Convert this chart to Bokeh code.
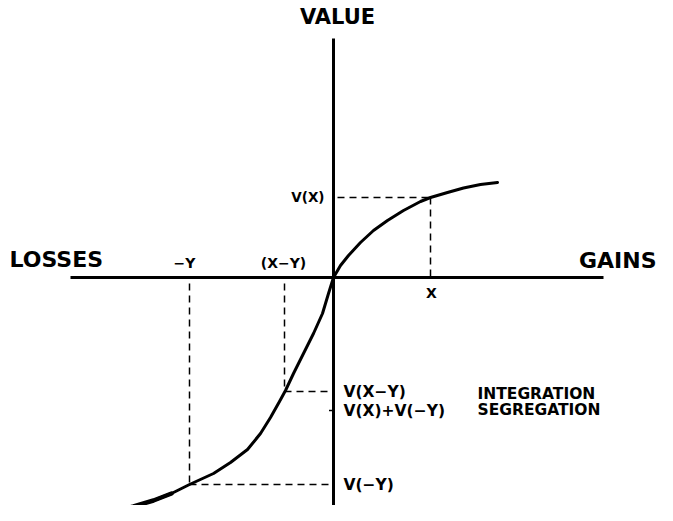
from bokeh.plotting import figure
from bokeh.models import Range1d
from bokeh.core.properties import value
from bokeh.embed import file_html
from bokeh.resources import INLINE

# ---- data (arbitrary value units, origin = reference point) ----
gains_x = [0, 0.7, 1.5, 2.7, 4.0, 5.4, 7.0, 8.7, 9.7, 11.4, 13.0, 14.7, 16.4]
gains_v = [0, 1.2, 2.2, 3.5, 4.7, 5.7, 6.7, 7.6, 8.0, 8.5, 8.95, 9.3, 9.5]

losses_x = [0, -0.5, -1.1, -2.0, -3.0, -4.0, -4.8, -5.4, -6.3, -7.3, -8.6, -10.3,
            -12.0, -14.4, -16.2, -18.0, -20.0, -22.0, -24.4]
losses_v = [0, -1.6, -3.6, -5.6, -7.6, -9.6, -11.3, -12.4, -14.0, -15.6, -17.2, -18.5,
            -19.6, -20.7, -21.6, -22.3, -22.9, -23.4, -23.8]

X = 9.7
V_X = 8.0
X_MINUS_Y = -4.9
V_X_MINUS_Y = -11.4
MINUS_Y = -14.4
V_MINUS_Y = -20.7
V_SEGREGATED = -13.3   # V(X)+V(-Y)

h_axis = [-26.3, 27.0]
v_axis = [-24.1, 23.9]

FONT = value("DejaVu Sans")

p = figure(width=657, height=505, output_backend="svg", toolbar_location=None,
           x_range=Range1d(-33.3, 32.4), y_range=Range1d(-22.8, 27.7),
           min_border=0)
p.axis.visible = False
p.grid.visible = False
p.outline_line_color = None

# axes
p.line(h_axis, [0, 0], line_color="black", line_width=3)
p.line([0, 0], v_axis, line_color="black", line_width=3)

# dashed guides
dash = dict(line_color="black", line_width=1.5, line_dash="7 5")
p.line([0.4, X], [V_X, V_X], **dash)
p.line([X, X], [V_X, 0], **dash)
p.line([X_MINUS_Y, X_MINUS_Y], [-0.6, V_X_MINUS_Y], **dash)
p.line([X_MINUS_Y, -0.4], [V_X_MINUS_Y, V_X_MINUS_Y], **dash)
p.line([MINUS_Y, MINUS_Y], [-0.6, V_MINUS_Y], **dash)
p.line([MINUS_Y, -0.4], [V_MINUS_Y, V_MINUS_Y], **dash)

# tick for V(X)+V(-Y)
p.segment(x0=[-0.45], y0=[V_SEGREGATED], x1=[0], y1=[V_SEGREGATED],
          line_color="black", line_width=1.5)

# value function
p.line(gains_x, gains_v, line_color="black", line_width=3, line_join="round", line_cap="round")
p.line(losses_x, losses_v, line_color="black", line_width=3, line_join="round", line_cap="round")
p.line(losses_x[-5:], losses_v[-5:], line_color="black", line_width=4.5, line_join="round", line_cap="round")

def label(x, y, t, size, align="left"):
    p.text(x=[x], y=[y], text=[t], text_font=FONT, text_font_style="bold",
           text_font_size=f"{size}px", text_align=align, text_baseline="middle",
           text_color="black")

label(0.4, 26.05, "VALUE", 21, "center")
label(-32.4, 1.8, "LOSSES", 22, "left")
label(32.3, 1.7, "GAINS", 22, "right")
label(MINUS_Y - 0.5, 1.45, "\u2212Y", 14, "center")
label(X_MINUS_Y - 0.1, 1.45, "(X\u2212Y)", 14, "center")
label(X + 0.1, -1.55, "X", 14, "center")
label(-0.9, V_X + 0.05, "V(X)", 13.5, "right")
label(1.0, V_X_MINUS_Y, "V(X\u2212Y)", 15.5, "left")
label(1.0, V_SEGREGATED, "V(X)+V(\u2212Y)", 15.5, "left")
label(1.0, V_MINUS_Y, "V(\u2212Y)", 15.5, "left")
label(14.4, -11.6, "INTEGRATION", 15.5, "left")
label(14.4, -13.2, "SEGREGATION", 15.5, "left")

open("out.html", "w").write(file_html(p, INLINE))
